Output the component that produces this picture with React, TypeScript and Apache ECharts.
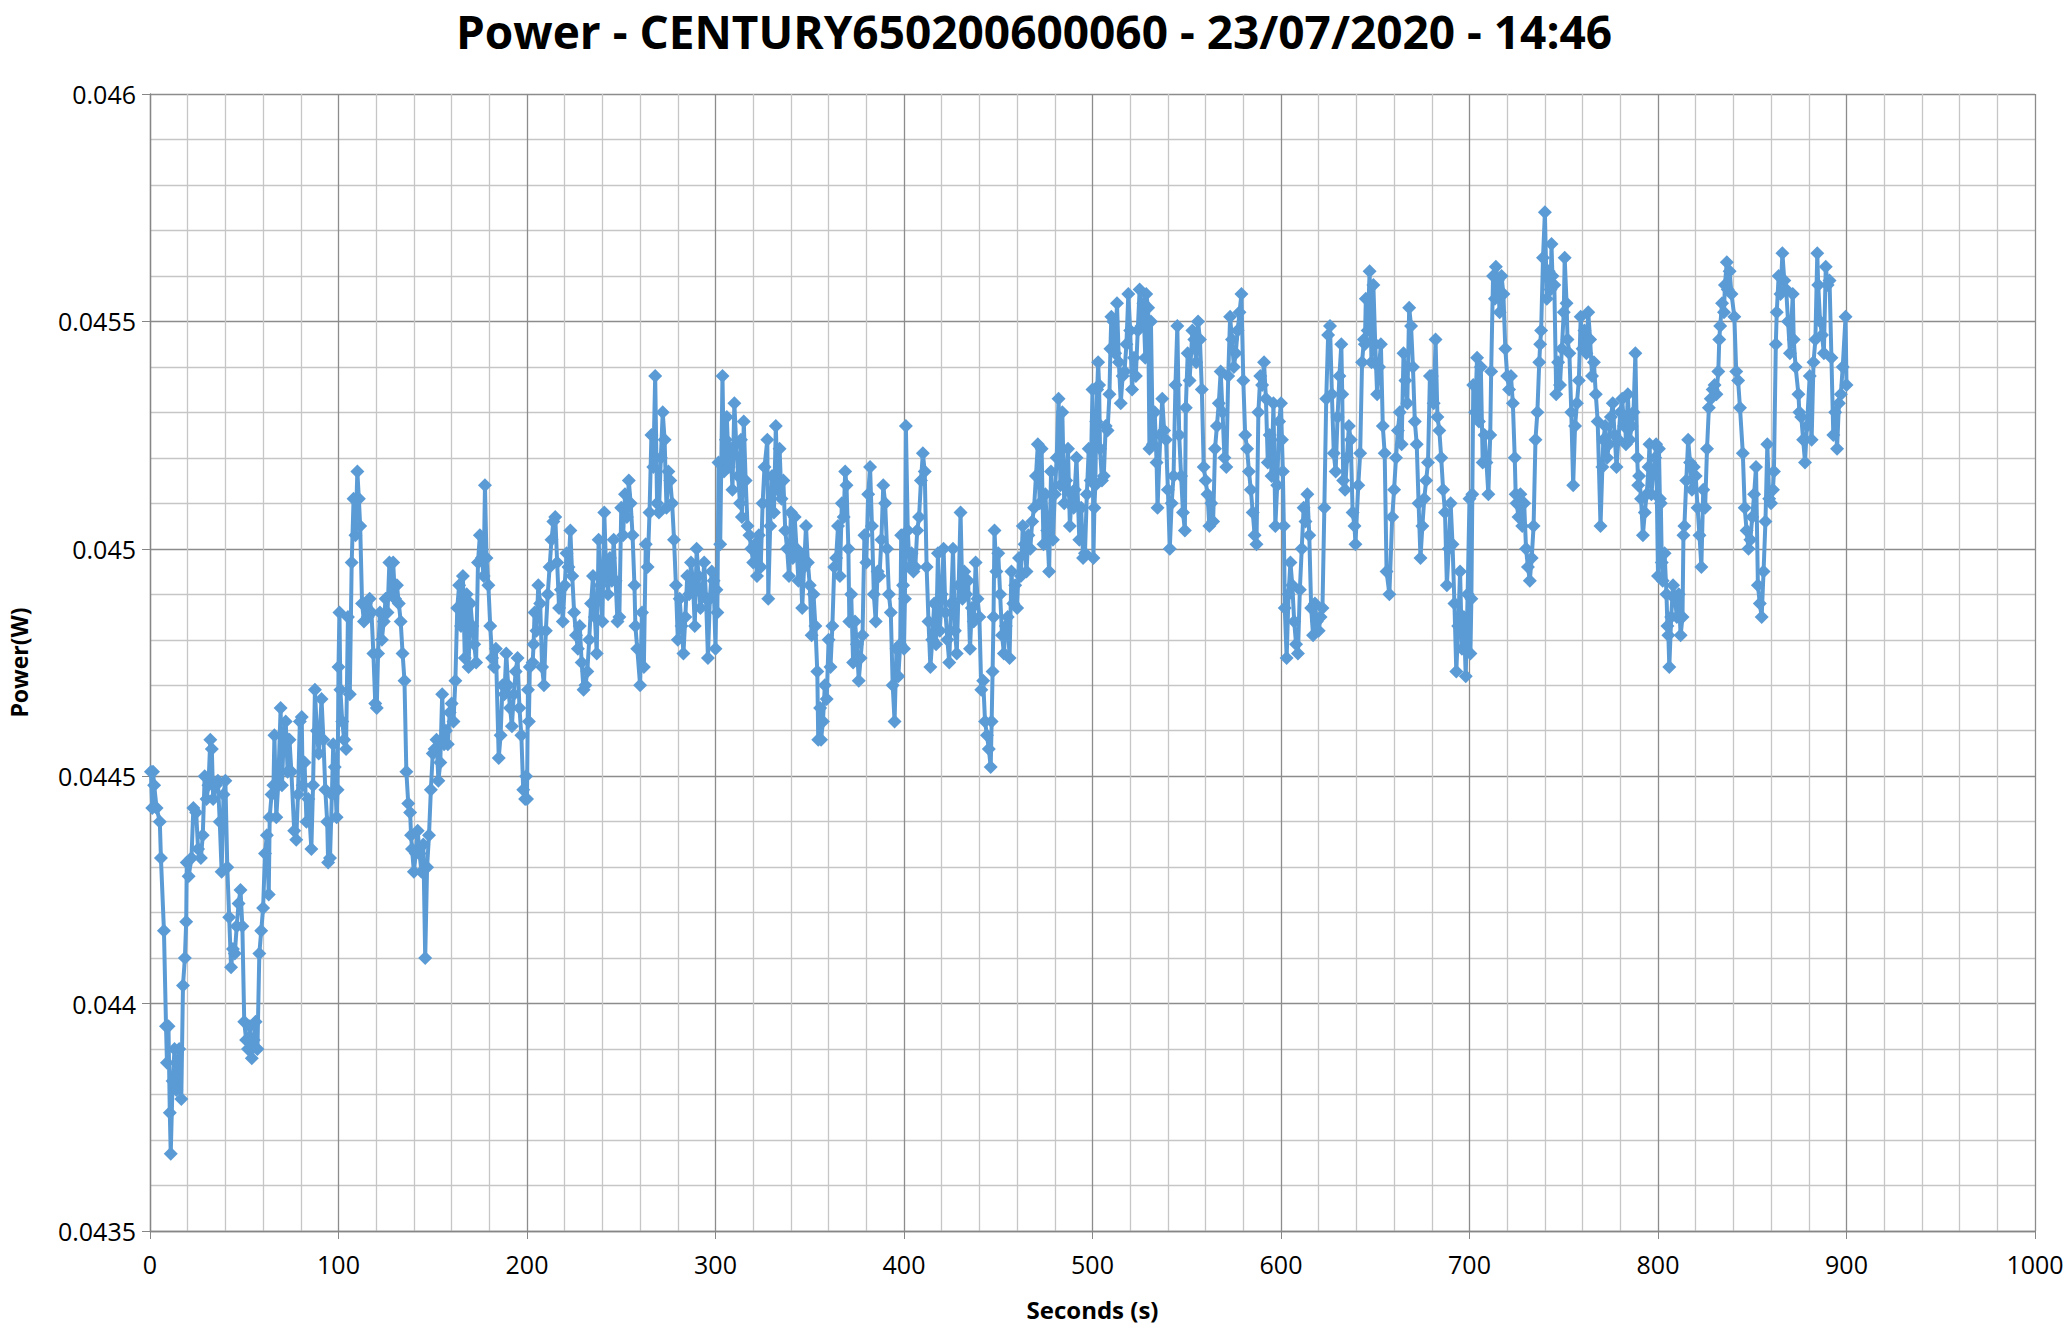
import React, { useEffect, useRef } from "react";
import * as echarts from "echarts";

const TITLE = "Power - CENTURY650200600060 - 23/07/2020 - 14:46";
const X_NAME = "Seconds (s)";
const Y_NAME = "Power(W)";

// [seconds, watts]
const seg0: number[][] = [
  [0.5,0.04451],[1.2,0.04443],[1.6,0.04451],[2.2,0.04448],[3.5,0.04443],[5.2,0.04440],[5.8,0.04432],[7.4,0.04416],[8.5,0.04395],[9,0.04387],[9.8,0.04395],[10.5,0.04376],[11,0.04367],[12,0.04383],[13,0.04390],[14,0.04381],[15.5,0.04390],[16.6,0.04379],[17.5,0.04404],[18.5,0.04410],[19.2,0.04418],[19.5,0.04431],[20.5,0.04428],[22,0.04432],[23,0.04443],[24.5,0.04442],[25.5,0.04434],[27,0.04432],[28,0.04437],[29,0.04450],[30,0.04445],[31,0.04448],[32,0.04458],[32.8,0.04456],[33.5,0.04445],[35,0.04448],[36,0.04449],[37,0.04440],[38,0.04429],[39,0.04446],[40,0.04449],[41,0.04430],[42,0.04419],[43,0.04408],[44,0.04412],[45,0.04411],[46,0.04417],[47,0.04422],[48,0.04425],[49,0.04417],[50,0.04396],[51,0.04392],[52,0.04390],[53,0.04395],[54,0.04388],[55,0.04392],[56,0.04396],[57,0.04390],[58,0.04411],[59,0.04416],[60,0.04421],[61,0.04433],[62,0.04437],[63,0.04424],[63.5,0.04441],[64.5,0.04446],[65.5,0.04448],[66,0.04459],[67,0.04441],[68,0.04448],[69.3,0.04465],[70,0.04448],[71,0.04459],[72,0.04462],[73,0.04451],[74,0.04458],[75,0.04451],[76.5,0.04438],[77.6,0.04436],[78.5,0.04446],[79.5,0.04462],[80.5,0.04463],[81,0.04448],[82,0.04453],[83,0.04440],[84,0.04445],[85.6,0.04434],[86.5,0.04448],[87.5,0.04469],[88.5,0.04460],[89.5,0.04455],[91,0.04467],[92,0.04458],[93,0.04447],[94,0.04440],[94.5,0.04431],[95.5,0.04432],[96.5,0.04446],[97.2,0.04457],[98,0.04452],[99,0.04441],[99.5,0.04447],[100,0.04474],[100.5,0.04486]
];
const seg1: number[][] = [
  [101,0.04469],[102,0.04462],[103,0.04458],[104,0.04456],[105,0.04485],[106,0.04468],[107,0.04497],[108,0.04511],[109,0.04503],[110,0.04517],[110.8,0.04511],[111.5,0.04505],[112.5,0.04488],[113.5,0.04484],[114.5,0.04488],[115.5,0.04485],[116.5,0.04489],[117.5,0.04486],[118.5,0.04477],[119.5,0.04466],[120.3,0.04465],[121,0.04477],[122,0.04486],[123,0.04480],[124,0.04484],[125,0.04489],[126,0.04486],[127,0.04497],[128,0.04490],[129,0.04497],[130,0.04489],[131,0.04492],[132,0.04488],[133,0.04484],[134,0.04477],[135,0.04471],[136,0.04451],[137,0.04444],[138,0.04442],[138.5,0.04437],[139,0.04434],[140,0.04429],[141,0.04433],[142,0.04438],[143,0.04433],[144,0.04429],[145,0.04435],[146,0.04410],[147,0.04430],[148,0.04437],[149,0.04447],[150,0.04455],[151,0.04456],[152,0.04458],[153,0.04449],[154,0.04453],[155,0.04468],[156,0.04457],[157,0.04460],[158,0.04457],[159,0.04464],[160,0.04466],[161,0.04462],[162,0.04471],[163,0.04487],[164,0.04492],[165,0.04483],[166,0.04494],[167,0.04476],[168,0.04490],[169,0.04474],[170,0.04488],[171,0.04483],[172,0.04479],[173,0.04475],[174,0.04497],[175,0.04503],[176,0.04498],[177,0.04494],[177.7,0.04514],[178.5,0.04498],[179.5,0.04492],[180.5,0.04483],[181.5,0.04476],[182.5,0.04474],[183.5,0.04478],[185,0.04454],[186,0.04459],[187,0.04470],[188,0.04468],[189,0.04477],[190,0.04470],[191,0.04465],[192,0.04461],[193,0.04468],[194,0.04473],[195,0.04476],[196,0.04465],[197,0.04459],[198,0.04447],[199,0.04445],[199.5,0.04450]
];
const seg2: number[][] = [
  [200,0.04445],[200.5,0.04469],[201,0.04462],[201.5,0.04474],[203,0.04475],[203.5,0.04479],[204,0.04486],[205,0.04482],[206,0.04492],[207,0.04488],[208,0.04474],[209,0.04470],[210,0.04482],[211,0.04490],[212,0.04496],[213,0.04502],[214,0.04506],[215,0.04507],[216,0.04497],[217,0.04487],[218,0.04491],[219,0.04484],[220,0.04492],[221,0.04499],[222,0.04496],[223,0.04504],[224,0.04494],[225,0.04486],[226,0.04481],[227,0.04478],[228,0.04483],[229,0.04475],[230,0.04469],[231,0.04470],[232,0.04473],[233,0.04480],[234,0.04488],[235,0.04494],[236,0.04485],[237,0.04477],[238,0.04502],[239,0.04492],[240,0.04484],[241,0.04508],[242,0.04495],[243,0.04490],[244,0.04498],[245,0.04493],[246,0.04502],[247,0.04493],[248,0.04484],[249,0.04485],[250,0.04509],[251,0.04503],[252,0.04512],[253,0.04507],[254,0.04515],[255,0.04510],[256,0.04503],[257,0.04492],[257.5,0.04483],[258.5,0.04478],[260,0.04470],[261,0.04486],[262,0.04474],[263,0.04501],[264,0.04496],[265,0.04508],[266,0.04525],[267,0.04518],[268,0.04538],[269,0.04510],[270,0.04508],[271,0.04520],[272,0.04530],[273,0.04524],[274,0.04509],[275,0.04517],[276,0.04515],[277,0.04510],[278,0.04502],[279,0.04492],[280,0.04480],[281,0.04489],[282,0.04483],[283,0.04477],[284,0.04485],[285,0.04494],[286,0.04490],[287,0.04497],[288,0.04493],[289,0.04483],[290,0.04500],[291,0.04494],[292,0.04487],[293,0.04490],[294,0.04497],[295,0.04489],[296,0.04476],[297,0.04489],[298,0.04495],[299,0.04493]
];
const seg3: number[][] = [
  [300,0.04478],[300.5,0.04491],[301,0.04486],[301.6,0.04519],[302.5,0.04501],[303.7,0.04538],[304.5,0.04517],[305.5,0.04524],[306,0.04529],[307,0.04518],[308,0.04522],[309,0.04513],[310,0.04532],[311,0.04523],[312,0.04516],[313,0.04510],[313.5,0.04524],[314,0.04507],[315,0.04528],[316,0.04515],[317,0.04505],[318,0.04503],[319,0.04500],[320,0.04497],[321,0.04501],[322,0.04494],[323,0.04503],[324,0.04496],[325,0.04510],[326,0.04518],[327.5,0.04524],[328,0.04489],[329,0.04505],[330,0.04516],[331,0.04508],[332,0.04527],[333,0.04513],[334,0.04522],[335,0.04511],[336,0.04515],[337,0.04504],[338,0.04500],[339,0.04494],[340,0.04508],[341,0.04498],[342,0.04507],[343,0.04500],[344,0.04493],[345,0.04499],[346,0.04487],[347,0.04496],[348,0.04505],[349,0.04497],[350,0.04492],[351,0.04481],[352,0.04490],[353,0.04483],[354,0.04473],[354.5,0.04458],[355.5,0.04465],[356,0.04458],[357,0.04462],[358,0.04470],[359,0.04467],[360,0.04480],[361,0.04474],[362,0.04483],[363,0.04496],[364,0.04498],[365,0.04505],[366,0.04494],[367,0.04510],[368,0.04507],[368.8,0.04517],[369.5,0.04514],[370.5,0.04500],[371,0.04484],[372,0.04490],[373,0.04475],[374,0.04484],[375,0.04479],[376,0.04471],[377,0.04476],[378,0.04481],[379,0.04503],[380,0.04497],[381,0.04512],[382,0.04518],[383,0.04505],[384,0.04490],[385,0.04484],[386,0.04495],[387,0.04494],[388,0.04502],[389,0.04514],[390,0.04510],[391,0.04500],[392,0.04490],[393,0.04486],[394,0.04470],[395,0.04462],[396,0.04478],[397,0.04472],[398,0.04479],[398.5,0.04503],[399.5,0.04492]
];
const seg4: number[][] = [
  [400,0.04478],[400.5,0.04489],[401,0.04527],[402,0.04504],[403,0.04496],[404,0.04499],[405,0.04495],[406,0.04496],[407,0.04504],[408,0.04507],[409,0.04515],[410,0.04521],[411,0.04517],[412,0.04496],[413,0.04484],[414,0.04474],[415,0.04480],[416,0.04488],[417,0.04479],[418,0.04499],[419,0.04482],[420,0.04490],[421,0.04500],[422,0.04486],[423,0.04480],[424,0.04475],[425,0.04488],[426,0.04500],[427,0.04482],[428,0.04477],[429,0.04492],[430,0.04508],[431,0.04489],[432,0.04495],[433,0.04490],[434,0.04493],[435,0.04478],[436,0.04487],[437,0.04484],[438,0.04497],[439,0.04489],[440,0.04485],[441,0.04469],[442,0.04471],[443,0.04462],[444,0.04459],[445,0.04456],[446,0.04452],[446.5,0.04462],[447,0.04473],[447.5,0.04485],[448,0.04504],[449,0.04495],[450,0.04499],[451,0.04490],[452,0.04481],[453,0.04477],[454,0.04483],[455,0.04485],[456,0.04476],[457,0.04495],[458,0.04488],[459,0.04492],[460,0.04487],[461,0.04498],[462,0.04494],[463,0.04505],[464,0.04501],[465,0.04495],[466,0.04503],[467,0.04500],[468,0.04506],[469,0.04509],[470,0.04516],[471,0.04523],[472,0.04510],[473,0.04522],[474,0.04501],[475,0.04512],[476,0.04504],[477,0.04495],[478,0.04517],[479,0.04502],[480,0.04512],[481,0.04520],[482,0.04533],[483,0.04514],[484,0.04530],[485,0.04510],[486,0.04515],[487,0.04522],[488,0.04505],[489,0.04512],[490,0.04509],[490.6,0.04513],[491.5,0.04520],[493,0.04502],[494,0.04509],[495,0.04498],[496,0.04499],[497,0.04512],[498,0.04522],[499,0.04515]
];
const seg5: number[][] = [
  [500,0.04535],[500.5,0.04498],[501,0.04509],[501.5,0.04514],[502,0.04528],[502.5,0.04535],[503,0.04541],[503.5,0.04536],[504,0.04522],[505,0.04515],[506,0.04516],[507,0.04527],[508,0.04526],[509,0.04534],[509.5,0.04544],[510,0.04551],[511,0.04550],[512,0.04543],[513,0.04554],[514,0.04541],[515,0.04532],[516,0.04538],[517,0.04539],[518,0.04545],[519,0.04556],[520,0.04548],[521,0.04535],[522,0.04542],[523,0.04538],[524,0.04548],[525,0.04557],[526,0.04549],[527,0.04554],[528,0.04542],[528.5,0.04556],[529.5,0.04553],[530.2,0.04522],[531,0.04550],[532,0.04523],[533,0.04530],[534,0.04519],[534.5,0.04509],[536,0.04525],[537,0.04533],[538,0.04526],[539,0.04524],[540,0.04513],[541,0.04500],[542,0.04510],[543,0.04516],[544,0.04536],[545,0.04549],[546,0.04525],[547,0.04516],[548,0.04508],[549,0.04504],[549.5,0.04531],[550.5,0.04543],[551.5,0.04537],[553,0.04548],[554,0.04546],[555,0.04541],[556,0.04550],[557,0.04546],[558,0.04535],[559,0.04518],[560,0.04515],[561,0.04512],[562,0.04505],[563,0.04510],[564,0.04506],[565,0.04522],[566,0.04527],[567,0.04532],[568,0.04539],[569,0.04530],[570,0.04520],[571,0.04518],[572,0.04538],[573,0.04551],[574,0.04546],[575,0.04540],[576,0.04543],[577,0.04548],[578,0.04552],[579,0.04556],[580,0.04537],[581,0.04525],[582,0.04522],[583,0.04517],[584,0.04513],[585,0.04508],[586,0.04503],[587,0.04501],[588,0.04530],[589,0.04538],[590,0.04536],[591,0.04541],[592,0.04533],[593,0.04519],[594,0.04525],[595,0.04516],[596,0.04532],[597,0.04505],[598,0.04514],[599,0.04528]
];
const seg6: number[][] = [
  [600,0.04532],[600.5,0.04524],[601,0.04517],[601.5,0.04505],[602,0.04487],[603,0.04476],[604,0.04490],[605,0.04497],[606,0.04492],[607,0.04484],[608,0.04479],[609,0.04477],[610,0.04491],[611,0.04500],[612,0.04509],[613,0.04506],[614,0.04512],[615,0.04503],[616,0.04487],[617,0.04481],[618,0.04488],[619,0.04484],[620,0.04482],[621,0.04485],[622,0.04487],[623,0.04509],[624,0.04533],[625,0.04547],[626,0.04549],[627,0.04534],[628,0.04521],[629,0.04517],[630,0.04529],[631,0.04538],[632,0.04545],[632.5,0.04534],[633,0.04515],[634,0.04513],[635,0.04520],[636,0.04527],[637,0.04524],[638,0.04508],[639,0.04505],[639.5,0.04501],[641,0.04514],[642,0.04521],[643,0.04541],[644,0.04546],[644.5,0.04545],[645,0.04555],[646,0.04548],[647,0.04561],[648,0.04541],[649,0.04558],[650,0.04545],[651,0.04534],[652,0.04540],[653,0.04545],[654,0.04527],[655,0.04521],[656,0.04495],[657.5,0.04490],[659,0.04507],[660,0.04513],[661,0.04520],[662,0.04526],[663,0.04530],[664,0.04523],[665,0.04543],[666,0.04537],[667,0.04532],[668,0.04553],[669,0.04549],[670,0.04540],[671,0.04528],[672,0.04523],[673,0.04510],[674,0.04498],[675,0.04505],[676,0.04511],[677,0.04515],[678,0.04519],[679,0.04538],[680,0.04538],[681,0.04532],[682,0.04546],[683,0.04529],[684,0.04526],[685,0.04520],[686,0.04513],[687,0.04508],[688,0.04492],[689,0.04500],[690,0.04510],[691,0.04501],[692,0.04488],[693,0.04473],[694,0.04483],[695,0.04495],[696,0.04478],[697,0.04485],[698,0.04472],[699,0.04490],[700,0.04511]
];
const seg7: number[][] = [
  [700.5,0.04477],[701,0.04489],[701.5,0.04512],[702,0.04536],[703,0.04530],[704,0.04542],[705,0.04528],[706,0.04540],[707,0.04519],[708,0.04525],[709,0.04519],[710,0.04512],[711,0.04525],[711.5,0.04539],[712.5,0.04560],[713.5,0.04555],[714,0.04562],[715,0.04559],[716,0.04552],[717,0.04560],[718,0.04556],[719,0.04544],[720,0.04538],[721,0.04535],[722,0.04538],[723,0.04532],[724,0.04520],[724.5,0.04512],[725,0.04510],[726,0.04507],[727,0.04512],[728,0.04505],[729,0.04510],[730,0.04500],[731,0.04496],[732,0.04493],[733,0.04498],[734,0.04505],[735,0.04524],[736,0.04530],[737,0.04541],[737.5,0.04545],[738,0.04548],[739,0.04564],[740,0.04574],[741,0.04555],[742,0.04561],[743,0.04557],[743.5,0.04567],[744,0.04560],[745,0.04558],[746,0.04534],[747,0.04541],[748,0.04536],[749,0.04544],[750,0.04552],[750.5,0.04564],[751.5,0.04554],[752,0.04546],[753,0.04543],[754,0.04530],[755,0.04514],[756,0.04527],[757,0.04532],[758,0.04537],[759,0.04551],[760,0.04544],[761,0.04548],[762,0.04543],[763,0.04552],[764,0.04546],[765,0.04538],[766,0.04541],[767,0.04534],[768,0.04528],[769.5,0.04505],[770.5,0.04518],[771,0.04524],[772,0.04527],[773,0.04520],[774,0.04523],[775,0.04529],[776,0.04532],[777,0.04525],[778,0.04518],[779,0.04524],[780,0.04530],[781,0.04533],[782,0.04527],[782.5,0.04529],[783,0.04523],[784,0.04534],[785,0.04524],[786,0.04527],[787,0.04530],[788,0.04543],[789,0.04520],[789.5,0.04514],[790,0.04516],[791,0.04511],[792,0.04503],[793,0.04508],[794,0.04512],[795,0.04518],[795.5,0.04523],[796.5,0.04512],[797.5,0.04517],[798.5,0.04520],[799,0.04523]
];
const seg8: number[][] = [
  [800,0.04494],[800.5,0.04522],[801,0.04511],[801.5,0.04510],[802,0.04497],[802.5,0.04493],[803.5,0.04499],[804.5,0.04490],[805,0.04483],[805.5,0.04481],[806,0.04474],[807,0.04485],[808,0.04492],[809,0.04489],[810,0.04485],[811,0.04490],[812,0.04481],[813,0.04485],[813.5,0.04503],[814,0.04505],[815,0.04515],[816,0.04524],[817,0.04519],[818,0.04513],[819,0.04518],[820,0.04516],[821,0.04509],[822,0.04503],[823,0.04496],[824,0.04513],[825,0.04509],[826,0.04522],[827,0.04531],[828,0.04533],[829,0.04535],[830,0.04536],[831,0.04534],[832,0.04539],[832.5,0.04546],[833,0.04549],[834,0.04554],[835,0.04552],[835.5,0.04558],[836.5,0.04563],[837,0.04557],[838,0.04561],[839,0.04556],[840.5,0.04551],[841.5,0.04539],[842.5,0.04537],[843.5,0.04531],[845,0.04521],[846,0.04509],[847,0.04504],[848,0.04500],[849,0.04502],[850,0.04507],[851,0.04512],[852,0.04518],[853,0.04492],[854,0.04488],[855,0.04485],[856,0.04495],[857,0.04506],[858,0.04523],[859,0.04511],[860,0.04510],[861,0.04513],[861.5,0.04517],[862.5,0.04545],[863,0.04552],[864,0.04560],[865,0.04556],[866,0.04565],[867,0.04559],[868,0.04557],[869,0.04550],[870,0.04543],[871.5,0.04556],[872,0.04546],[873,0.04540],[874.5,0.04534],[875,0.04530],[876,0.04529],[877,0.04524],[878,0.04519],[879,0.04527],[880.5,0.04538],[881.5,0.04524],[882.5,0.04541],[883.5,0.04546],[884.5,0.04565],[885,0.04558],[886,0.04550],[887,0.04547],[888,0.04543],[889,0.04562],[890,0.04558],[891,0.04559],[892,0.04542],[893,0.04525],[894,0.04530],[895,0.04522],[896,0.04532],[897,0.04534],[898,0.04540],[899.5,0.04551],[900,0.04536]
];

const SEGMENTS = [seg0, seg1, seg2, seg3, seg4, seg5, seg6, seg7, seg8];

const X_MIN = 0;
const X_MAX = 1000;
const X_STEP = 100;
const Y_MIN = 0.0435;
const Y_MAX = 0.046;
const Y_STEP = 0.0005;

const FONT = "'Open Sans', 'Noto Sans', sans-serif";

export default function App() {
  const ref = useRef<HTMLDivElement>(null);

  useEffect(() => {
    if (!ref.current) return;
    const chart = echarts.init(ref.current, undefined, { renderer: "svg" });
    const data: number[][] = [];
    SEGMENTS.forEach((s) => s.forEach((p) => data.push(p)));

    chart.setOption({
      animation: false,
      backgroundColor: "#ffffff",
      textStyle: { fontFamily: FONT },
      title: {
        text: TITLE,
        left: "center",
        top: 3,
        textStyle: { fontFamily: FONT, fontWeight: "bold", fontSize: 46, color: "#000" },
      },
      grid: { left: 150, right: 33, top: 94, bottom: 100, containLabel: false, outerBoundsMode: "none" },
      xAxis: {
        type: "value",
        min: X_MIN,
        max: X_MAX,
        interval: X_STEP,
        name: X_NAME,
        nameLocation: "middle",
        nameGap: 66,
        nameTextStyle: { fontFamily: FONT, fontWeight: "bold", fontSize: 24, color: "#000" },
        axisLine: { show: true, lineStyle: { color: "#868686", width: 1.3 } },
        axisTick: { show: true, length: 8, inside: false, lineStyle: { color: "#868686" } },
        axisLabel: {
          fontFamily: FONT,
          fontSize: 25,
          color: "#000",
          margin: 20,
          formatter: (v: number) => String(v),
        },
        splitLine: { show: true, lineStyle: { color: "#8c8c8c", width: 1.3 } },
        minorTick: { show: false, splitNumber: 5 },
        minorSplitLine: { show: true, lineStyle: { color: "#c6c6c6", width: 1.3 } },
      },
      yAxis: {
        type: "value",
        min: Y_MIN,
        max: Y_MAX,
        interval: Y_STEP,
        name: Y_NAME,
        nameLocation: "middle",
        nameGap: 120,
        nameRotate: 90,
        nameTextStyle: { fontFamily: FONT, fontWeight: "bold", fontSize: 23, color: "#000" },
        axisLine: { show: true, lineStyle: { color: "#868686", width: 1.3 } },
        axisTick: { show: true, length: 8, inside: false, lineStyle: { color: "#868686" } },
        axisLabel: {
          fontFamily: FONT,
          fontSize: 25,
          color: "#000",
          margin: 14,
          formatter: (v: number) => String(+v.toFixed(4)),
        },
        splitLine: { show: true, lineStyle: { color: "#8c8c8c", width: 1.3 } },
        minorTick: { show: false, splitNumber: 5 },
        minorSplitLine: { show: true, lineStyle: { color: "#c6c6c6", width: 1.3 } },
      },
      series: [
        {
          type: "line",
          data,
          color: "#5b9bd5",
          lineStyle: { color: "#5b9bd5", width: 4 },
          symbol: "diamond",
          symbolSize: 14,
          showAllSymbol: true,
          itemStyle: { color: "#5b9bd5" },
        },
      ],
    });
    return () => chart.dispose();
  }, []);

  return (
    <div
      ref={ref}
      style={{ position: "absolute", left: 0, top: 0, width: 2068, height: 1331, background: "#fff" }}
    />
  );
}
